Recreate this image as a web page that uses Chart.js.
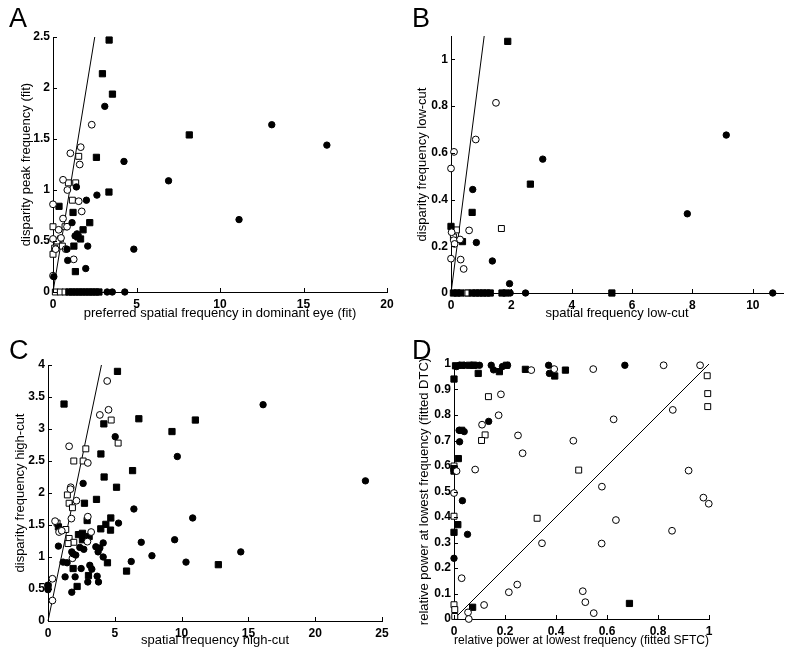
<!DOCTYPE html>
<html>
<head>
<meta charset="utf-8">
<script src="https://cdn.jsdelivr.net/npm/chart.js@4.4.1/dist/chart.umd.min.js"></script>
<style>
  body { margin: 0; background: #fff; width: 800px; height: 659px; position: relative; overflow: hidden;
         font-family: "Liberation Sans", Arial, sans-serif; }
  .panel { position: absolute; }
  .letter { position: absolute; font-size: 27px; line-height: 1; color: #000; }
</style>
</head>
<body>
<div class="panel" style="left:0;top:0;width:400px;height:330px"><canvas id="chartA"></canvas></div>
<div class="panel" style="left:400px;top:0;width:400px;height:330px"><canvas id="chartB"></canvas></div>
<div class="panel" style="left:0;top:330px;width:400px;height:329px"><canvas id="chartC"></canvas></div>
<div class="panel" style="left:400px;top:330px;width:400px;height:329px"><canvas id="chartD"></canvas></div>
<div class="letter" style="left:9px;top:5px">A</div>
<div class="letter" style="left:412px;top:5px">B</div>
<div class="letter" style="left:9px;top:337px">C</div>
<div class="letter" style="left:412px;top:337px">D</div>
<script>
// Panel A : disparity peak frequency vs preferred spatial frequency
const aFilledCircle = [[13.1,1.64],[16.4,1.44],[11.14,0.71],[6.92,1.09],[3.1,1.82],[4.25,1.28],[2.63,0.95],[2.0,0.9],
  [1.4,1.03],[1.14,0.68],[1.44,0.57],[1.32,0.55],[0.84,0.42],[2.08,0.45],[0.88,0.31],[1.96,0.23],[4.84,0.42],[0.05,0.15],
  [3.24,0],[3.55,0],[4.3,0]];
const aOpenCircle = [[2.32,1.64],[1.04,1.36],[1.66,1.42],[1.6,1.25],[0.6,1.1],[0.86,1.0],[0,0.86],[1.54,0.89],[1.72,0.79],
  [0.6,0.72],[0.34,0.61],[0.84,0.64],[0,0.52],[0.48,0.53],[0.16,0.42],[0.76,0.42],[1.24,0.32],[0,0.16]];
const aFilledSquare = [[3.36,2.47],[2.96,2.14],[3.56,1.94],[8.16,1.54],[2.6,1.32],[3.35,0.98],[0.36,0.84],[1.2,0.78],
  [2.2,0.68],[1.8,0.61],[1.5,0.54],[1.65,0.52],[1.25,0.45],[1.34,0.2],
  [0.95,0],[1.15,0],[1.35,0],[1.55,0],[1.75,0],[1.95,0],[2.15,0],[2.35,0],[2.55,0],[2.75,0]];
const aOpenSquare = [[0,0.64],[1.54,1.33],[1.36,1.07],[0.92,1.07],[1.16,0.9],[0.72,0.64],[0.44,0.52],[0.24,0.5],
  [0.56,0.45],[0.1,0.43],[0,0.37],[0.14,0],[0.44,0],[0.72,0]];
const aTicksX = [0, 5, 10, 15, 20];
const aTicksY = [0, 0.5, 1, 1.5, 2, 2.5];

// Panel B : low-cut
const bFilledCircle = [[3.04,0.573],[0.72,0.443],[0.84,0.216],[1.37,0.137],[1.94,0.04],[9.12,0.676],[7.83,0.339],
  [1.96,0],[2.47,0],[10.66,0]];
const bOpenCircle = [[1.49,0.814],[0.82,0.657],[0.1,0.604],[0,0.533],[0.6,0.268],[0,0.147],[0.32,0.143],[0.42,0.103],
  [0.09,0.226],[0.3,0.229],[0.02,0.26],[0.12,0.21]];
const bFilledSquare = [[1.88,1.077],[2.63,0.466],[0.7,0.345],[0,0.285],[0.38,0.22],[5.33,0],
  [0.08,0],[0.2,0],[0.32,0],[0.7,0],[0.82,0],[0.94,0],[1.06,0],[1.18,0],[1.3,0],[1.69,0],[1.82,0]];
const bOpenSquare = [[1.67,0.276],[0.18,0.27],[0.08,0.24],[0.5,0],[0.56,0]];
const bTicksX = [0, 2, 4, 6, 8, 10];
const bTicksY = [0, 0.2, 0.4, 0.6, 0.8, 1];

// Panel C : high-cut
const cFilledCircle = [[16.1,3.38],[23.76,2.19],[10.83,1.61],[10.33,0.92],[14.43,1.08],[9.68,2.57],[9.48,1.27],[7.78,1.02],
  [6.98,1.23],[6.23,0.93],[5.03,2.88],[2.63,2.15],[6.43,1.75],[5.28,1.53],[0.78,1.17],[1.13,0.92],[1.43,0.91],[1.78,1.08],
  [1.88,1.05],[2.08,1.03],[2.38,1.15],[2.68,1.12],[3.58,1.16],[3.88,1.14],[3.75,1.08],[4.13,1.22],[4.13,1.0],[3.13,0.87],
  [3.28,0.81],[3.68,0.7],[3.78,0.61],[2.98,0.61],[2.48,0.82],[2.03,0.69],[1.28,0.69],[1.78,0.45],[0,0.56],[0,0.49]];
const cOpenCircle = [[4.43,3.75],[3.88,3.22],[4.53,3.3],[1.58,2.73],[2.98,2.47],[1.7,2.09],[1.68,2.06],[2.13,1.88],
  [1.75,1.6],[2.98,1.63],[0.53,1.56],[0.83,1.39],[1.03,1.41],[3.23,1.39],[2.95,1.24],[1.83,0.98],[0.33,0.66],[0.33,0.32]];
const cFilledSquare = [[1.2,3.39],[5.2,3.9],[6.8,3.16],[9.28,2.96],[11.03,3.14],[12.75,0.88],[4.18,3.08],[3.96,2.61],
  [6.33,2.35],[4.2,2.25],[5.13,2.09],[2.73,1.84],[3.63,1.9],[4.7,1.61],[2.93,1.57],[4.33,1.51],[3.95,1.44],[4.68,1.42],
  [0.78,1.47],[2.28,1.35],[2.58,1.37],[3.08,1.32],[2.58,1.27],[1.88,0.82],[3.03,0.71],[2.18,0.54],[4.45,0.91],[5.88,0.78],
  [0,0.54]];
const cOpenSquare = [[2.83,2.69],[1.93,2.5],[2.63,2.5],[4.73,3.14],[5.25,2.78],[1.45,1.97],[1.58,1.84],[1.83,1.77],
  [0.68,1.53],[1.33,1.43],[1.58,1.29],[1.93,1.23],[1.5,1.21]];
const cTicksX = [0, 5, 10, 15, 20, 25];
const cTicksY = [0, 0.5, 1, 1.5, 2, 2.5, 3, 3.5, 4];

// Panel D : relative power at lowest frequency
const dFilledCircle = [[0.022,0.995],[0.04,0.995],[0.1,0.995],[0.146,0.995],[0.155,0.977],[0.19,0.99],[0.21,0.995],
  [0.371,0.995],[0.374,0.963],[0.67,0.995],[0.136,0.775],[0.022,0.695],[0.02,0.74],[0.04,0.735],[0.033,0.464],
  [0.053,0.332],[0,0.238],[0.01,0.99]];
const dOpenCircle = [[0.303,0.976],[0.393,0.98],[0.546,0.98],[0.822,0.995],[0.965,0.995],[0.858,0.82],[0.626,0.783],
  [0.92,0.582],[0.58,0.519],[0.978,0.476],[0.999,0.452],[0.635,0.388],[0.855,0.346],[0.579,0.296],[0.505,0.109],
  [0.515,0.066],[0.548,0.023],[0.184,0.881],[0.175,0.799],[0.11,0.762],[0.251,0.72],[0.269,0.65],[0.468,0.699],
  [0.083,0.586],[0.345,0.297],[0.215,0.105],[0.248,0.135],[0.118,0.055],[0.055,0.026],[0.058,0],[0.03,0.16],
  [0,0.494],[0.01,0.58]];
const dFilledSquare = [[0,0.941],[0.006,0.993],[0.03,0.995],[0.06,0.995],[0.079,0.995],[0.095,0.963],[0.178,0.97],
  [0.206,0.995],[0.28,0.979],[0.395,0.953],[0.437,0.976],[0.017,0.629],[0,0.59],[0,0.58],[0.015,0.37],[0,0.34],
  [0.073,0.046],[0.688,0.061],[0.03,0.74]];
const dOpenSquare = [[0.993,0.954],[0.995,0.884],[0.995,0.833],[0.135,0.872],[0.122,0.722],[0.108,0.7],[0.326,0.395],
  [0.489,0.584],[0,0.6],[0,0.403],[0,0.056],[0.003,0.037],[0.003,0.01],[0.075,0.995]];
const dTicksX = [0, 0.2, 0.4, 0.6, 0.8, 1];
const dTicksY = [0, 0.1, 0.2, 0.3, 0.4, 0.5, 0.6, 0.7, 0.8, 0.9, 1];

const FONT = '"Liberation Sans", Arial, sans-serif';

// small tick marks pointing into the plot, like the original figure
const inwardTicks = {
  id: 'inwardTicks',
  afterDraw(chart) {
    const { ctx, chartArea, scales } = chart;
    ctx.save();
    ctx.strokeStyle = '#000';
    ctx.lineWidth = 1;
    scales.x.ticks.forEach(t => {
      const px = Math.round(scales.x.getPixelForValue(t.value)) + 0.5;
      ctx.beginPath(); ctx.moveTo(px, chartArea.bottom); ctx.lineTo(px, chartArea.bottom - 4); ctx.stroke();
    });
    scales.y.ticks.forEach(t => {
      const py = Math.round(scales.y.getPixelForValue(t.value)) + 0.5;
      ctx.beginPath(); ctx.moveTo(chartArea.left, py); ctx.lineTo(chartArea.left + 4, py); ctx.stroke();
    });
    ctx.restore();
  }
};

function pts(list) {
  return list.map(p => ({ x: p[0], y: p[1] }));
}

function axis(min, max, ticks, title, size, titlePad, isX) {
  return {
    type: 'linear',
    min: min,
    max: max,
    afterBuildTicks: s => { s.ticks = ticks.map(v => ({ value: v })); },
    afterFit: s => { if (isX) s.height = size; else s.width = size; },
    grid: { display: false, drawTicks: false },
    border: { display: true, color: '#000', width: 1 },
    ticks: {
      color: '#000',
      padding: isX ? 5 : 3,
      font: { family: FONT, size: 12, weight: 'bold' },
      callback: v => String(+Number(v).toFixed(2))
    },
    title: {
      display: true,
      text: title,
      color: '#000',
      font: { family: FONT, size: 13 },
      padding: titlePad
    }
  };
}

function makePanel(id, data, lineEnd, xAxis, yAxis, padding) {
  const marker = (list, style, fill, r) => ({
    data: pts(list),
    pointStyle: style,
    pointRadius: r,
    pointHoverRadius: r,
    pointBackgroundColor: fill,
    pointBorderColor: '#000',
    pointBorderWidth: 1,
    showLine: false,
    clip: false
  });
  new Chart(document.getElementById(id), {
    type: 'scatter',
    data: {
      datasets: [
        marker(data[0], 'circle', '#000', 3.2),
        marker(data[1], 'circle', '#fff', 3.4),
        marker(data[2], 'rect', '#000', 4.4),
        marker(data[3], 'rect', '#fff', 4.2),
        {
          data: [{ x: 0, y: 0 }, { x: lineEnd, y: lineEnd }],
          showLine: true,
          borderColor: '#000',
          borderWidth: 1,
          pointRadius: 0,
          clip: false
        }
      ]
    },
    options: {
      responsive: true,
      maintainAspectRatio: false,
      animation: false,
      layout: { padding: padding },
      plugins: { legend: { display: false }, tooltip: { enabled: false } },
      scales: { x: xAxis, y: yAxis }
    },
    plugins: [inwardTicks]
  });
}

makePanel('chartA', [aFilledCircle, aOpenCircle, aFilledSquare, aOpenSquare], 2.5,
  axis(0, 20, aTicksX, 'preferred spatial frequency in dominant eye (fit)', 38, { top: 0, bottom: 9 }, true),
  axis(0, 2.5, aTicksY, 'disparity peak frequency (fit)', 53, { top: 19, bottom: 0 }, false),
  { left: 0, top: 37, right: 13, bottom: 0 });

makePanel('chartB', [bFilledCircle, bOpenCircle, bFilledSquare, bOpenSquare], 1.1,
  axis(0, 11, bTicksX, 'spatial frequency low-cut', 37, { top: 0, bottom: 9 }, true),
  axis(0, 1.1, bTicksY, 'disparity frequency low-cut', 51, { top: 15, bottom: 0 }, false),
  { left: 0, top: 36, right: 17, bottom: 0 });

makePanel('chartC', [cFilledCircle, cOpenCircle, cFilledSquare, cOpenSquare], 4,
  axis(0, 25, cTicksX, 'spatial frequency high-cut', 38, { top: 0, bottom: 11 }, true),
  axis(0, 4, cTicksY, 'disparity frequency high-cut', 48, { top: 13, bottom: 0 }, false),
  { left: 0, top: 35, right: 18, bottom: 0 });

makePanel('chartD', [dFilledCircle, dOpenCircle, dFilledSquare, dOpenSquare], 1,
  axis(0, 1, dTicksX, 'relative power at lowest frequency (fitted SFTC)', 40, { top: 0, bottom: 11 }, true),
  axis(0, 1, dTicksY, 'relative power at lowest frequency (fitted DTC)', 54, { top: 17, bottom: 0 }, false),
  { left: 0, top: 34, right: 91, bottom: 0 });
</script>
</body>
</html>
